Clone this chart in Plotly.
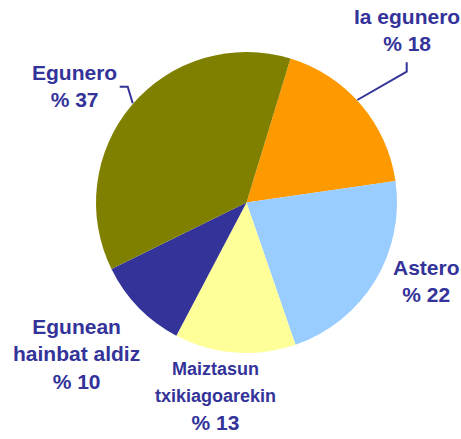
import plotly.graph_objects as go

W, H = 461, 439

# data
labels = ["Ia egunero", "Astero", "Maiztasun txikiagoarekin", "Egunean hainbat aldiz", "Egunero"]
values = [18, 22, 13, 10, 37]
colors = ["#FF9900", "#99CCFF", "#FFFF99", "#333399", "#808000"]
label_texts = [
    "Ia egunero<br>% 18",
    "Astero<br>% 22",
    "<span style='font-size:18px'>Maiztasun<br>txikiagoarekin</span><br>% 13",
    "Egunean<br>hainbat aldiz<br>% 10",
    "Egunero<br>% 37",
]
# label centres in screen pixels
label_pos = [(407, 30), (426, 281), (215, 396), (76, 354), (74, 86)]

TEXT = "#333399"


def px(x):
    return x / W


def py(y):
    return 1 - y / H


fig = go.Figure(go.Pie(
    labels=labels,
    values=values,
    marker=dict(colors=colors, line=dict(width=0)),
    sort=False,
    direction="clockwise",
    rotation=17,
    textinfo="none",
    hoverinfo="label+percent",
    showlegend=False,
    domain=dict(x=[px(96), px(397)], y=[py(353), py(52)]),
))

annotations = []
for txt, (x, y) in zip(label_texts, label_pos):
    annotations.append(dict(
        x=px(x), y=py(y), xref="paper", yref="paper",
        text="<b>" + txt + "</b>", showarrow=False,
        xanchor="center", yanchor="middle", align="center",
        font=dict(color=TEXT, size=21, family="Liberation Sans, Arial"),
    ))

# leader lines
shapes = [
    dict(type="path", xref="paper", yref="paper",
         path=f"M {px(119.7)} {py(86.7)} L {px(127.7)} {py(86.7)} L {px(132.7)} {py(103.3)}",
         line=dict(color=TEXT, width=2)),
    dict(type="path", xref="paper", yref="paper",
         path=f"M {px(406.7)} {py(62.3)} L {px(406.7)} {py(71.7)} L {px(357.3)} {py(100)}",
         line=dict(color=TEXT, width=2)),
]

fig.update_layout(
    width=W, height=H,
    margin=dict(l=0, r=0, t=0, b=0),
    paper_bgcolor="white",
    plot_bgcolor="white",
    annotations=annotations,
    shapes=shapes,
)

# drop the default 8px body margin so the figure fills the window
fig.write_html("out.html", config={"displayModeBar": False},
               post_script="document.body.style.margin='0';")
